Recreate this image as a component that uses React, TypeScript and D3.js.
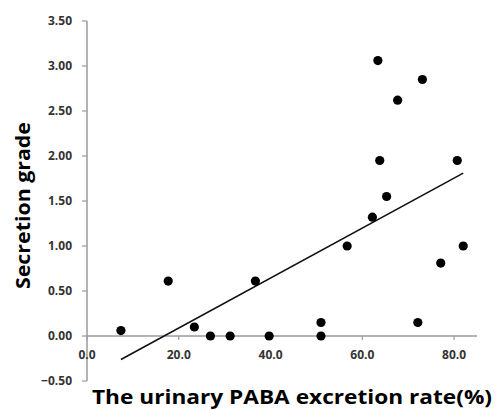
import React from "react";
import * as d3 from "d3";

const paba: number[] = [7.4, 17.7, 23.4, 26.9, 31.2, 36.7, 39.7, 51.0, 51.0, 56.7, 62.2, 72.1, 77.1, 82.0, 63.4, 73.1, 67.7, 63.8, 80.7, 65.3];
const grade: number[] = [0.06, 0.61, 0.10, 0, 0, 0.61, 0, 0.15, 0, 1.00, 1.32, 0.15, 0.81, 1.00, 3.06, 2.85, 2.62, 1.95, 1.95, 1.55];
const yTicks: number[] = [-0.5, 0, 0.5, 1, 1.5, 2, 2.5, 3, 3.5];
const xTicks: number[] = [0, 20, 40, 60, 80];
const xTitle = "The urinary PABA excretion rate(%)";
const yTitle = "Secretion grade";

export default function App() {
  const W = 499, H = 410;
  const x = d3.scaleLinear().domain([0, 85]).range([87, 477]);
  const y = d3.scaleLinear().domain([-0.5, 3.5]).range([381, 21]);

  const pts = paba.map((v, i) => ({ x: v, y: grade[i] }));
  const mx = d3.mean(paba)!;
  const my = d3.mean(grade)!;
  let sxy = 0, sxx = 0;
  pts.forEach(p => { sxy += (p.x - mx) * (p.y - my); sxx += (p.x - mx) ** 2; });
  const slope = sxy / sxx;
  const icpt = my - slope * mx;
  const [x0, x1] = d3.extent(paba) as [number, number];
  const line = d3.line<number>().x(d => x(d)).y(d => y(icpt + slope * d));

  const axisColor = "#9a9a9a";
  const tickFont = "'Open Sans', sans-serif";

  return (
    <svg width={W} height={H} style={{ position: "absolute", left: 0, top: 0, background: "#fff" }}>
      {/* y axis */}
      <line x1={x(0)} x2={x(0)} y1={y(3.5)} y2={y(-0.5)} stroke={axisColor} strokeWidth={1.5} />
      {yTicks.map(t => (
        <g key={"y" + t}>
          <line x1={x(0) - 5} x2={x(0)} y1={y(t)} y2={y(t)} stroke={axisColor} strokeWidth={1.2} />
          <text x={72} y={y(t)} dy="0.35em" textAnchor="end" fontFamily={tickFont} fontWeight={700} fontSize={12} fill="#333">
            {d3.format(".2f")(t)}
          </text>
        </g>
      ))}
      {/* x axis */}
      <line x1={x(0)} x2={477} y1={y(0)} y2={y(0)} stroke={axisColor} strokeWidth={1.5} />
      {xTicks.map(t => (
        <g key={"x" + t}>
          <line x1={x(t)} x2={x(t)} y1={y(0)} y2={y(0) + 4} stroke={axisColor} strokeWidth={1.2} />
          <text x={x(t)} y={355} dy="0.35em" textAnchor="middle" fontFamily={tickFont} fontWeight={700} fontSize={12} fill="#333">
            {d3.format(".1f")(t)}
          </text>
        </g>
      ))}
      {/* trend line */}
      <path d={line([x0, x1]) || ""} stroke="#111" strokeWidth={1.6} fill="none" />
      {/* points */}
      {pts.map((p, i) => (
        <circle key={i} cx={x(p.x)} cy={y(p.y)} r={4.6} fill="#000" />
      ))}
      {/* titles */}
      <text x={292} y={404} textAnchor="middle" fontFamily="'Open Sans', sans-serif" fontWeight={700} fontSize={20}
        fill="#000" textLength={400} lengthAdjust="spacingAndGlyphs">{xTitle}</text>
      <text transform={`translate(30,205.5) rotate(-90)`} textAnchor="middle" fontFamily="'Open Sans', sans-serif" fontWeight={700}
        fontSize={20} fill="#000" textLength={167} lengthAdjust="spacingAndGlyphs">{yTitle}</text>
    </svg>
  );
}
